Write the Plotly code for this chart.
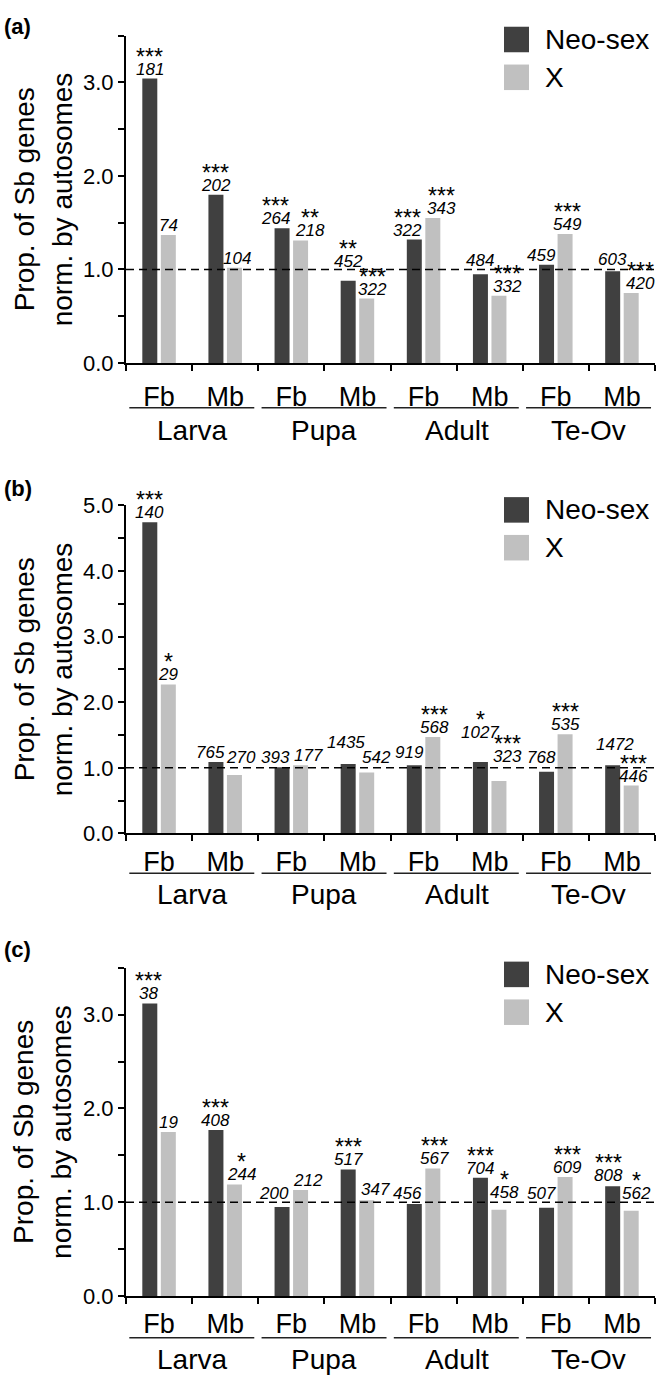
import plotly.graph_objects as go

# ---------------- data ----------------
stages = ["Larva", "Pupa", "Adult", "Te-Ov"]
tissues = ["Fb", "Mb"]
categories = [f"{s} {t}" for s in stages for t in tissues]
tick_labels = tissues * 4
series_names = ["Neo-sex", "X"]

# panel (a)
a_neo = [3.04, 1.80, 1.44, 0.88, 1.32, 0.95, 1.05, 0.98]
a_x = [1.37, 1.02, 1.31, 0.69, 1.55, 0.72, 1.38, 0.75]
a_neo_n = [181, 202, 264, 452, 322, 484, 459, 603]
a_x_n = [74, 104, 218, 322, 343, 332, 549, 420]
a_neo_sig = ["***", "***", "***", "**", "***", "", "", ""]
a_x_sig = ["", "", "**", "***", "***", "***", "***", "***"]

# panel (b)
b_neo = [4.74, 1.09, 1.01, 1.06, 1.04, 1.09, 0.94, 1.04]
b_x = [2.27, 0.89, 1.04, 0.93, 1.47, 0.80, 1.51, 0.73]
b_neo_n = [140, 765, 393, 1435, 919, 1027, 768, 1472]
b_x_n = [29, 270, 177, 542, 568, 323, 535, 446]
b_neo_sig = ["***", "", "", "", "", "*", "", ""]
b_x_sig = ["*", "", "", "", "***", "***", "***", "***"]

# panel (c)
c_neo = [3.12, 1.77, 0.95, 1.35, 0.98, 1.26, 0.94, 1.17]
c_x = [1.75, 1.19, 1.13, 1.02, 1.36, 0.92, 1.27, 0.91]
c_neo_n = [38, 408, 200, 517, 456, 704, 507, 808]
c_x_n = [19, 244, 212, 347, 567, 458, 609, 562]
c_neo_sig = ["***", "***", "", "***", "", "***", "", "***"]
c_x_sig = ["", "*", "", "", "***", "*", "***", "*"]

# ---------------- styling / layout ----------------
W, H = 661, 1391
FONT = "Liberation Sans, Arial, sans-serif"
NEO_C = "#404040"
X_C = "#c0c0c0"

def py(p):  # pixel row -> paper y
    return 1 - p / H

def px(p):
    return p / W

X_LEFT, X_RIGHT = 126, 655

panels = [
    dict(letter="(a)", top=24, bottom=357.5, ymax=3.5,
         neo=a_neo, x=a_x, neo_n=a_neo_n, x_n=a_x_n, neo_sig=a_neo_sig, x_sig=a_x_sig,
         letter_y=15, leg_top=15, grp_line=403, grp_lab=426, standoff=9,
         neo_dx=[0, 0, -7, 0, -7, 0, -5, 0], x_dx=[0, 3, 9, 6, 9, 9, 2, 9],
         neo_dy=[0, 0, 0, 10, 0, 4, 0, 2], x_dy=[0, 0, 0, 0, 0, 0, 0, 0]),
    dict(letter="(b)", top=502.3, bottom=836.5, ymax=5.0,
         neo=b_neo, x=b_x, neo_n=b_neo_n, x_n=b_x_n, neo_sig=b_neo_sig, x_sig=b_x_sig,
         letter_y=485, leg_top=494, grp_line=877, grp_lab=899, standoff=3,
         neo_dx=[0, -5, -7, -2, -5, 0, -5, 2], x_dx=[0, 7, 8, 10, 2, 9, 0, 2],
         neo_dy=[0, 0, 0, 12, 3, 20, 5, 11], x_dy=[0, 8, 0, 5, 0, 15, 0, 0]),
    dict(letter="(c)", top=973.3, bottom=1307.5, ymax=3.5,
         neo=c_neo, x=c_x, neo_n=c_neo_n, x_n=c_x_n, neo_sig=c_neo_sig, x_sig=c_x_sig,
         letter_y=955, leg_top=967, grp_line=1350, grp_lab=1372, standoff=3,
         neo_dx=[-1, 0, -8, 0, -7, 0, -5, -4], x_dx=[0, 7, 7, 9, 2, 6, 2, 5],
         neo_dy=[0, 0, 4, 0, 1, 0, 5, 1], x_dy=[0, 0, 0, 1, 0, 8, 0, 8]),
]

fig = go.Figure()
annotations = []
shapes = []
layout = {}
BAR_OFF = 0.14  # half distance between paired bar centres, in category units

for k, p in enumerate(panels):
    sfx = "" if k == 0 else str(k + 1)
    xa, ya = "x" + sfx, "y" + sfx
    fig.add_trace(go.Bar(x=categories, y=p["neo"], name=series_names[0], marker_color=NEO_C,
                         marker_line_width=0, xaxis=xa, yaxis=ya, showlegend=False))
    fig.add_trace(go.Bar(x=categories, y=p["x"], name=series_names[1], marker_color=X_C,
                         marker_line_width=0, xaxis=xa, yaxis=ya, showlegend=False))
    dom_y = [py(p["bottom"]), py(p["top"])]
    layout["xaxis" + sfx] = dict(
        domain=[px(X_LEFT), px(X_RIGHT)], anchor=ya, type="category",
        categoryorder="array", categoryarray=categories,
        tickmode="array", tickvals=categories, ticktext=tick_labels,
        tickson="boundaries", ticks="outside", ticklen=6, tickwidth=2, tickcolor="black",
        showline=True, linewidth=2, linecolor="black", showgrid=False, zeroline=False,
        tickfont=dict(family=FONT, size=27, color="black"), ticklabelstandoff=p["standoff"],
        range=[-0.5, 7.5], fixedrange=True)
    layout["yaxis" + sfx] = dict(
        domain=dom_y, anchor=xa, range=[0, p["ymax"]], tick0=0, dtick=1, tickformat=".1f",
        ticks="outside", ticklen=6, tickwidth=2, tickcolor="black",
        showline=True, linewidth=2, linecolor="black", showgrid=False, zeroline=False,
        tickfont=dict(family=FONT, size=22, color="black"),
        minor=dict(dtick=0.5, tick0=0, ticks="outside", ticklen=6, tickwidth=2,
                   tickcolor="black", showgrid=False),
        fixedrange=True)

    # dashed reference line at 1.0
    shapes.append(dict(type="line", xref=xa + " domain", yref=ya, x0=0, x1=1, y0=1, y1=1,
                       line=dict(color="black", width=1.5, dash="8px,5px"), layer="above"))

    # count + significance labels
    for i in range(len(categories)):
        for vals, ns, sigs, dxs, dys, sign in (
                (p["neo"], p["neo_n"], p["neo_sig"], p["neo_dx"], p["neo_dy"], -1),
                (p["x"], p["x_n"], p["x_sig"], p["x_dx"], p["x_dy"], 1)):
            xpos = i + sign * BAR_OFF
            annotations.append(dict(
                x=xpos, y=vals[i], xref=xa, yref=ya, text=f"<i>{ns[i]}</i>",
                showarrow=False, xanchor="center", yanchor="bottom",
                xshift=dxs[i], yshift=dys[i] - 2,
                font=dict(family=FONT, size=17, color="black")))
            if sigs[i]:
                annotations.append(dict(
                    x=xpos, y=vals[i], xref=xa, yref=ya, text=sigs[i],
                    showarrow=False, xanchor="center", yanchor="bottom",
                    xshift=dxs[i], yshift=dys[i] + 7,
                    font=dict(family=FONT, size=23, color="black")))

    # stage group lines and labels
    for g, stage in enumerate(stages):
        shapes.append(dict(type="line", xref=xa, yref="paper",
                           x0=2 * g - 0.45, x1=2 * g + 1.44,
                           y0=py(p["grp_line"]), y1=py(p["grp_line"]),
                           line=dict(color="#222222", width=1.5)))
        annotations.append(dict(x=2 * g + 0.5, xref=xa, y=py(p["grp_lab"]), yref="paper",
                                text=stage, showarrow=False, xanchor="center", yanchor="middle",
                                font=dict(family=FONT, size=28, color="black")))

    # panel letter
    annotations.append(dict(x=px(2), y=py(p["letter_y"]), xref="paper", yref="paper",
                            text="<b>" + p["letter"] + "</b>", showarrow=False,
                            xanchor="left", yanchor="middle",
                            font=dict(family=FONT, size=22, color="black")))

    # y-axis title (two lines)
    mid = (p["top"] + p["bottom"]) / 2
    for txt, cx in (("Prop. of Sb genes", 24), ("norm. by autosomes", 62)):
        annotations.append(dict(x=px(cx), y=py(mid), xref="paper", yref="paper", text=txt,
                                textangle=-90, showarrow=False, xanchor="center",
                                yanchor="middle", font=dict(family=FONT, size=28, color="black")))

    # legend (manual)
    for j, (nm, col) in enumerate(zip(series_names, [NEO_C, X_C])):
        t = p["leg_top"] + j * 38.5
        shapes.append(dict(type="rect", xref="paper", yref="paper",
                           x0=px(504), x1=px(529), y0=py(t + 26), y1=py(t),
                           fillcolor=col, line=dict(width=0)))
        annotations.append(dict(x=px(543), y=py(t + 13), xref="paper", yref="paper", text=nm,
                                showarrow=False, xanchor="left", yanchor="middle",
                                font=dict(family=FONT, size=28, color="black")))

fig.update_layout(
    width=W, height=H, margin=dict(l=0, r=0, t=0, b=0),
    paper_bgcolor="white", plot_bgcolor="white",
    barmode="group", bargap=0.44, bargroupgap=0.19,
    showlegend=False, annotations=annotations, shapes=shapes,
    font=dict(family=FONT, color="black"),
    **layout)

fig.write_html("out.html")
